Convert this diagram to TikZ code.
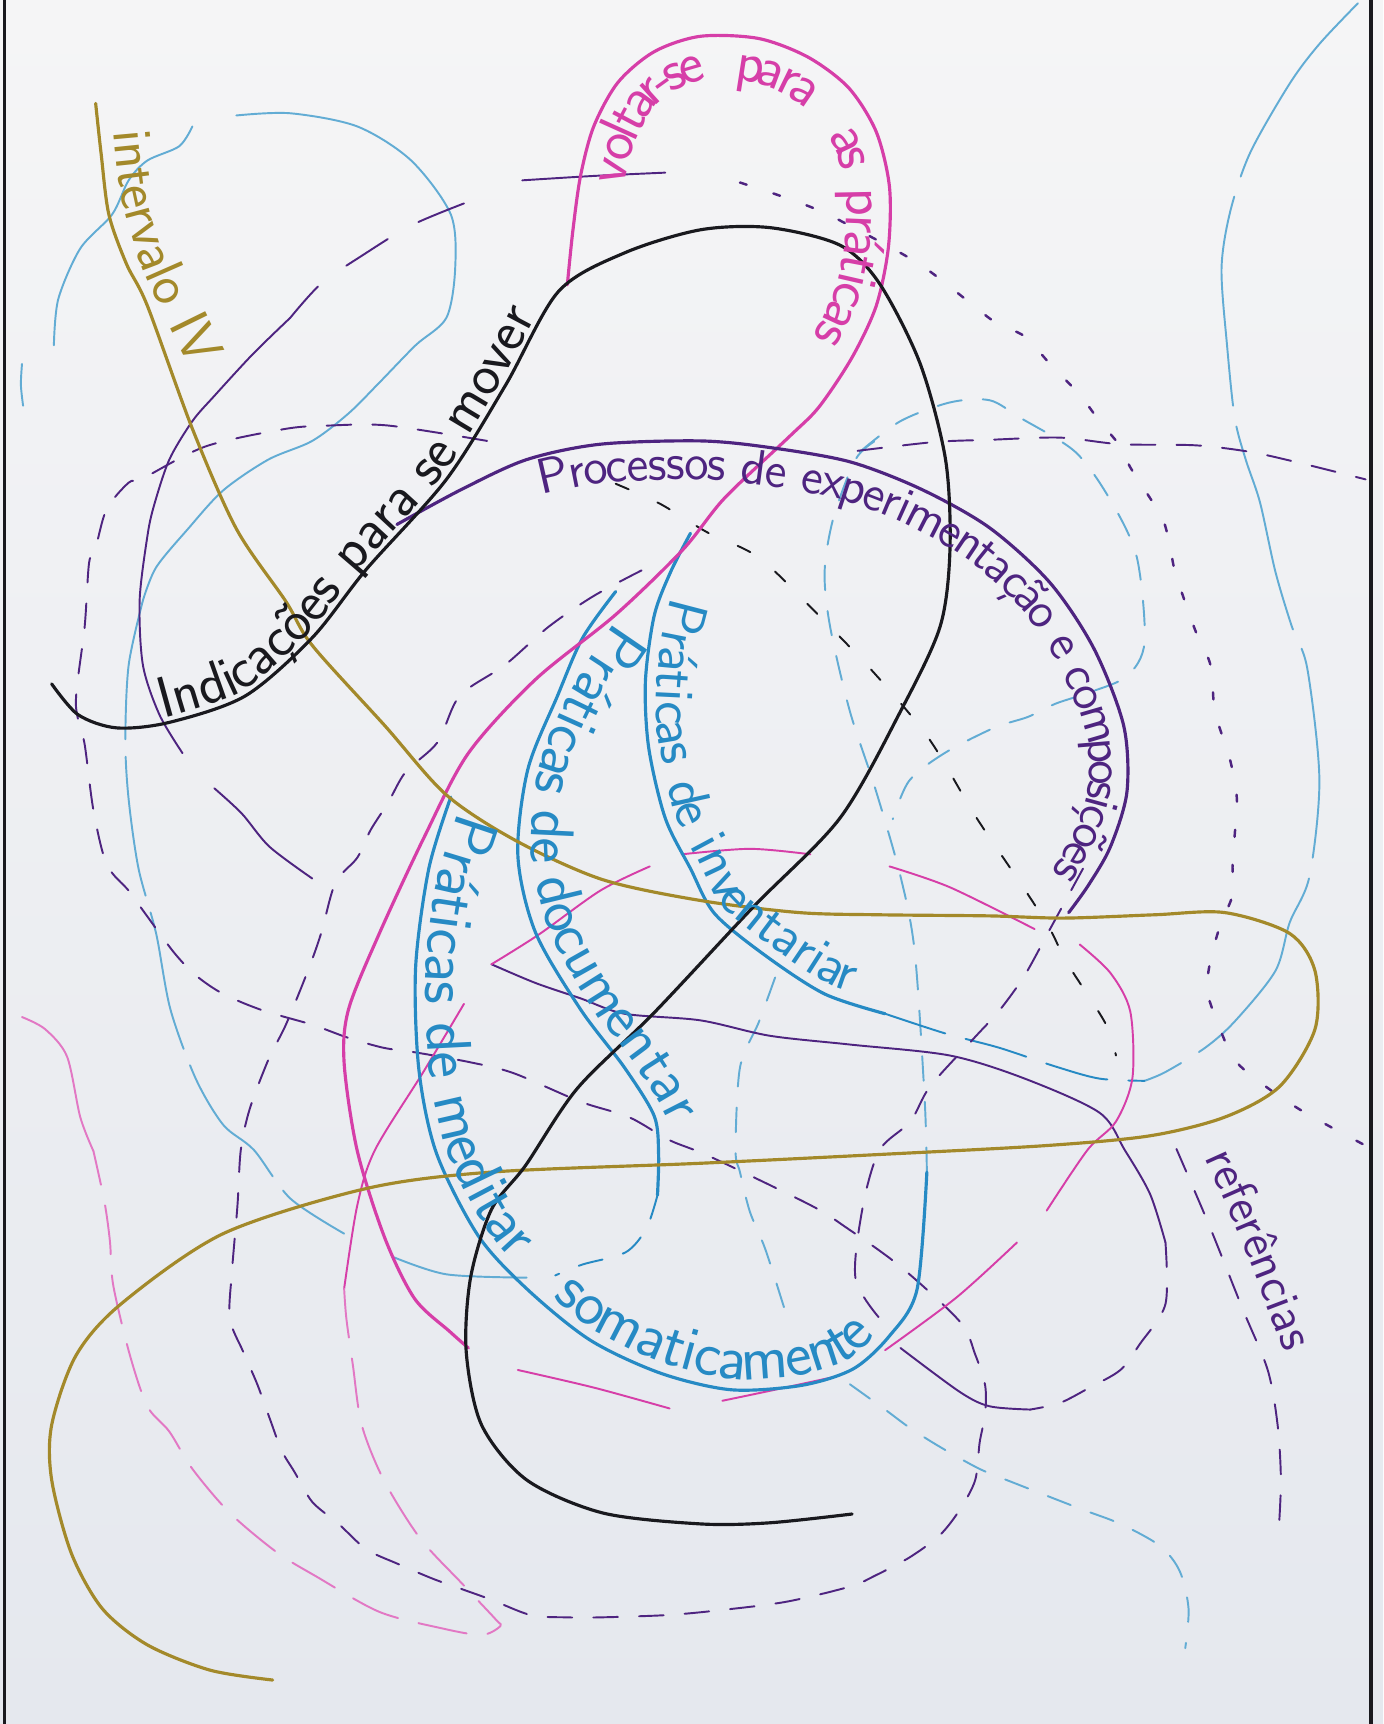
\documentclass[tikz,border=0pt]{standalone}
\usepackage{tikz}
\usetikzlibrary{decorations.text}

\definecolor{ouro}{RGB}{163,137,42}
\definecolor{rosa}{RGB}{214,62,168}
\definecolor{rosaclaro}{RGB}{226,120,196}
\definecolor{roxo}{RGB}{78,36,128}
\definecolor{azul}{RGB}{38,138,196}
\definecolor{azulclaro}{RGB}{98,172,212}
\definecolor{tinta}{RGB}{25,25,30}
\definecolor{papelA}{RGB}{245,245,246}
\definecolor{papelB}{RGB}{229,232,238}

\newcommand\letra[1]{\fontsize{#1}{#1}\selectfont\sffamily}

\begin{document}
\begin{tikzpicture}[x=0.10994mm, y=-0.10994mm,
        fio/.style={line width=0.9pt, line cap=round, line join=round},
        fino/.style={line width=0.55pt, line cap=round, line join=round},
        tracos/.style={fino, dash pattern=on 7pt off 6pt},
        virgulas/.style={fino, line width=0.7pt, dash pattern=on 2pt off 8pt},
        rotulo/.style={decorate, decoration={text along path, raise=#1}}
    ]
    \shade[top color=papelA, bottom color=papelB] (0,0) rectangle (1258,1568);
    \useasboundingbox (0,0) rectangle (1258,1568);
    \draw[tinta, line width=1pt] (4,0) -- (4,1568) (1247,0) -- (1247,1568);

    % fundo azul
    \draw[fino, azulclaro] plot[smooth] coordinates {(175,115) (163,133) (134,146) (117,164) (102,195) (73,226) (53,272) (49,314)};
    \draw[fino, azulclaro] plot[smooth] coordinates {(20,331) (19,350) (21,369)};
    \draw[fino, azulclaro] plot[smooth] coordinates {(215,105) (264,103) (325,115) (374,146) (410,195) (414,244) (406,289) (378,314) (345,348) (317,376) (284,401) (244,418) (203,446) (171,481) (142,516) (130,546)};
    \draw[fino, azulclaro, dash pattern=on 40pt off 5pt] plot[smooth] coordinates {(130,546) (117,605) (114,674) (117,727) (126,790) (142,849) (155,918) (178,981) (203,1023) (231,1046) (264,1090) (313,1122)};
    \draw[fino, azulclaro, dash pattern=on 60pt off 6pt] plot[smooth] coordinates {(1235,3) (1200,40) (1173,76) (1137,139) (1119,192) (1111,244) (1116,314) (1123,380) (1133,418) (1146,457) (1160,520) (1175,570) (1189,608) (1200,709) (1191,797) (1173,839) (1160,883) (1123,929) (1096,953) (1060,975) (1041,983)};
    \draw[tracos, azulclaro] plot[smooth] coordinates {(782,411) (819,383) (864,366) (900,364) (928,380) (978,411) (1010,455) (1034,507) (1041,584) (1025,615) (990,630) (960,640) (935,652) (904,662) (859,685) (827,710) (812,745)};
    \draw[tracos, azulclaro] plot[smooth] coordinates {(843,1066) (841,1000) (832,866) (819,797) (796,717) (773,647) (755,570) (750,520) (758,471) (778,418) (796,401)};
    \draw[tracos, azulclaro] plot[smooth] coordinates {(773,1259) (805,1282) (828,1299) (855,1316) (891,1336) (923,1349) (982,1372) (1019,1386) (1055,1406) (1073,1429) (1081,1463) (1078,1499)};
    \draw[tracos, azulclaro] plot[smooth] coordinates {(705,889) (690,930) (673,971) (669,1046) (673,1066) (682,1102) (696,1136) (714,1192)};
    \draw[fino, azulclaro] plot[smooth] coordinates {(357,1143) (406,1159) (479,1162)};
    \draw[tracos, azul] plot[smooth] coordinates {(598,1087) (588,1117) (569,1139) (530,1150) (505,1160)};
    \draw[azul, fino, dash pattern=on 18pt off 6pt] plot[smooth] coordinates {(805,922) (860,940) (909,953) (960,970) (1000,981) (1041,983)};

    % fundo roxo
    \draw[tracos, roxo] plot[smooth] coordinates {(443,401) (353,387) (300,387) (260,390) (187,406) (130,435) (117,439) (97,463) (87,498) (81,512) (77,570) (69,639) (77,677) (85,737) (97,786) (117,810) (130,828) (158,866) (178,887) (203,904) (239,919) (284,932) (317,944) (349,953) (377,957) (427,966) (467,976) (528,1002) (572,1016) (609,1037) (646,1052) (737,1096) (769,1116) (819,1152) (873,1202) (887,1232) (896,1260) (896,1286) (891,1312) (887,1346) (873,1373) (855,1396) (828,1416) (796,1433) (773,1443) (714,1457) (650,1465) (605,1469) (546,1471) (516,1471) (483,1469) (447,1455) (422,1446) (394,1436) (361,1422) (333,1409) (308,1386) (284,1366) (268,1339) (256,1319) (246,1292) (234,1259) (221,1229) (209,1199) (211,1156) (216,1096) (219,1046) (227,1009) (244,964) (260,932) (280,883) (292,849) (305,803) (325,780) (337,755) (353,730) (369,702) (398,675) (418,633) (459,605) (499,570) (540,542) (585,518)};
    \draw[tracos, roxo] plot[smooth] coordinates {(780,410) (850,402) (900,400) (964,398) (1019,404) (1087,405) (1137,411) (1182,421) (1242,436)};
    \draw[virgulas, roxo] plot[smooth] coordinates {(673,166) (718,181) (755,196) (819,230) (846,247) (878,272) (905,293) (932,306) (955,331) (982,359) (1000,383) (1019,406) (1028,425) (1046,453) (1057,470) (1064,495) (1069,521) (1087,573) (1101,605) (1105,647) (1119,692) (1125,727) (1123,759) (1121,786) (1121,814) (1110,841) (1101,873) (1098,901) (1107,929) (1123,964) (1151,988) (1182,1009) (1214,1027) (1246,1044)};
    \draw[fino, tinta, dash pattern=on 4pt off 9pt] plot[smooth] coordinates {(560,440) (600,458) (643,484) (690,507) (740,555) (795,612) (845,672) (887,742) (930,806) (955,845) (970,875) (1005,930) (1015,960)};
    \draw[tracos, roxo] plot[smooth] coordinates {(985,790) (955,845) (932,887) (909,919) (887,943) (846,988) (828,1020) (800,1046) (785,1096) (778,1162) (800,1199)};
    \draw[tracos, roxo] plot[smooth] coordinates {(1070,1045) (1100,1115) (1130,1190) (1153,1246) (1162,1296) (1165,1346) (1163,1392)};
    \draw[fino, roxo] plot[smooth] coordinates {(447,877) (487,894) (528,908) (568,922) (637,928) (700,942) (773,950) (864,960) (932,981) (1000,1012) (1023,1046) (1046,1086) (1060,1130)};
    \draw[tracos, roxo] plot[smooth] coordinates {(1060,1130) (1060,1186) (1037,1222) (1019,1246) (991,1262) (964,1276) (937,1282)};
    \draw[fino, roxo] plot[smooth] coordinates {(937,1282) (900,1279) (873,1266) (819,1226)};
    \draw[fino, roxo] plot[smooth] coordinates {(475,164) (540,160) (605,157)};
    \draw[fino, roxo, dash pattern=on 14pt off 10pt] plot[smooth] coordinates {(422,185) (374,205) (330,232) (292,258) (264,289)};
    \draw[fino, roxo] plot[smooth] coordinates {(264,289) (230,322) (195,360) (175,383) (154,418) (140,460) (134,488) (127,546) (130,605) (145,650) (166,685)};
    \draw[fino, roxo] plot[smooth] coordinates {(195,717) (220,740) (245,770) (284,799)};

    % fundo rosa
    \draw[fino, rosa] plot[smooth] coordinates {(422,913) (385,975) (341,1046) (325,1096) (313,1172)};
    \draw[fino, rosaclaro, dash pattern=on 14pt off 6pt] plot[smooth] coordinates {(313,1172) (315,1199) (321,1242) (329,1296) (349,1346) (382,1399) (420,1440) (451,1473) (455,1479) (438,1487) (402,1481) (345,1466) (288,1434) (252,1412) (209,1376) (175,1336) (154,1302) (134,1279) (118,1232) (103,1169) (100,1129) (95,1093) (85,1047)};
    \draw[fino, rosaclaro] plot[smooth] coordinates {(85,1047) (73,1016) (61,961) (41,936) (20,925)};
    \draw[fino, rosa] plot[smooth] coordinates {(471,1246) (540,1262) (609,1281)};
    \draw[fino, rosa] plot[smooth] coordinates {(657,1274) (700,1265) (760,1252)};
    \draw[fino, rosa] plot[smooth] coordinates {(982,859) (1010,885) (1028,920) (1030,980) (1015,1020) (989,1046) (952,1101)};
    \draw[fino, rosa] plot[smooth] coordinates {(925,1130) (870,1180) (805,1228)};
    \draw[fino, rosa] plot[smooth] coordinates {(809,788) (864,807) (941,845)};
    \draw[fino, rosa] plot[smooth] coordinates {(620,777) (682,772) (737,777)};
    \draw[fino, rosa] plot[smooth] coordinates {(447,877) (490,850) (546,810) (591,788)};

    % linhas principais
    \draw[fio, azul] plot[smooth] coordinates {(628,485) (610,520) (595,560) (587,620) (590,680) (605,744) (628,790) (650,831) (696,869) (750,904) (805,922)};
    \draw[fio, azul] plot[smooth] coordinates {(560,538) (530,580) (507,633) (480,700) (471,778) (487,848) (528,918) (568,971) (595,1015) (599,1050) (598,1087)};
    \draw[fio, azul] plot[smooth] coordinates {(410,725) (390,790) (378,880) (381,973) (397,1049) (435,1124) (480,1173) (537,1219) (601,1249) (665,1264) (729,1260) (776,1245) (809,1215) (834,1173) (843,1066)};
    \draw[fio, rosa] plot[smooth] coordinates {(516,259) (521,210) (528,160) (540,115) (562,75) (595,47) (637,33) (690,35) (735,52) (772,80) (797,120) (809,170) (808,225) (797,278) (775,325) (745,370) (718,397) (659,453) (621,500) (560,559) (487,618) (426,685) (386,761) (345,849) (317,918) (313,967) (325,1047) (350,1126) (377,1181) (409,1211) (426,1226)};
    \draw[fio, roxo] plot[smooth] coordinates {(361,477) (420,445) (479,418) (546,404) (637,401) (700,407) (773,420) (838,445) (900,480) (955,530) (995,590) (1022,660) (1025,720) (1010,770) (990,805) (972,830)};
    \draw[fio, ouro] plot[smooth] coordinates {(87,94) (92,140) (99,195) (115,240) (134,278) (175,390) (215,481) (260,547) (284,587) (350,660) (406,723) (470,765) (548,800) (637,819) (727,830) (800,832) (900,833) (968,835) (1050,832) (1114,830) (1173,849) (1196,883) (1196,936) (1164,988) (1114,1016) (1046,1033) (950,1042) (800,1050) (637,1058) (447,1066) (333,1081) (203,1122) (110,1186) (69,1233) (47,1296) (47,1346) (65,1413) (93,1463) (134,1496) (191,1519) (248,1528)};
    \draw[fio, tinta] plot[smooth] coordinates {(47,622) (71,650) (106,662) (154,657) (223,633) (284,580) (333,518) (406,436) (460,350) (508,265) (568,230) (637,209) (700,207) (764,223) (800,258) (837,331) (860,418) (864,500) (855,570) (819,647) (764,744) (685,825) (595,921) (525,990) (478,1060) (447,1100) (428,1162) (424,1229) (438,1296) (479,1346) (548,1376) (637,1386) (700,1385) (775,1377)};

    % textos
    \path[rotulo=3pt, decoration={text={|\letra{16}\color{ouro}|intervalo IV}}] plot[smooth] coordinates {(94,120) (101,180) (118,240) (145,300) (175,360) (195,410)};
    \path[rotulo=1.5pt, decoration={text={|\letra{16.5}\color{tinta}|Indicações para se mover}}] plot[smooth] coordinates {(150,658) (223,633) (284,580) (333,518) (406,436) (460,350) (508,265) (568,230)};
    \path[rotulo=-12.5pt, decoration={text={|\letra{16.5}\color{rosa}|voltar-se {\hspace{8pt}}para {\hspace{11pt}}as {\hspace{3pt}}práticas}}] plot[smooth] coordinates {(528,160) (540,115) (562,75) (595,47) (637,33) (690,35) (735,52) (772,80) (797,120) (809,170) (808,225) (797,278) (775,325) (745,370) (718,397)};
    \path[rotulo=-11pt, decoration={text={|\letra{14.2}\color{roxo}|Processos de experimentação e composições}}] plot[smooth] coordinates {(485,416) (546,404) (637,401) (700,407) (773,420) (838,445) (900,480) (955,530) (995,590) (1022,660) (1025,720) (1010,770) (990,805) (972,830) (950,860)};
    \path[rotulo=3pt, decoration={text={|\letra{16}\color{azul}|Práticas de inventariar}}] plot[smooth] coordinates {(602,540) (591,587) (587,657) (595,700) (605,744) (628,790) (650,831) (696,869) (750,904) (805,922) (860,940)};
    \path[rotulo=3pt, decoration={text={|\letra{17.5}\color{azul}|Práticas de documentar}}] plot[smooth] coordinates {(552,560) (510,625) (480,700) (474,778) (490,848) (528,918) (568,971) (602,1030) (610,1080)};
    \path[rotulo=3pt, decoration={text={|\letra{18}\color{azul}|Práticas de meditar{\hspace{16pt}}somaticamente}}] plot[smooth] coordinates {(408,735) (388,800) (378,880) (381,973) (397,1049) (435,1124) (480,1173) (537,1219) (601,1249) (665,1264) (729,1260) (776,1245) (809,1215) (834,1173)};
    \path[rotulo=2pt, decoration={text={|\letra{14}\color{roxo}|referências}}] plot[smooth] coordinates {(1090,1055) (1125,1135) (1165,1240) (1180,1290)};
\end{tikzpicture}
\end{document}
